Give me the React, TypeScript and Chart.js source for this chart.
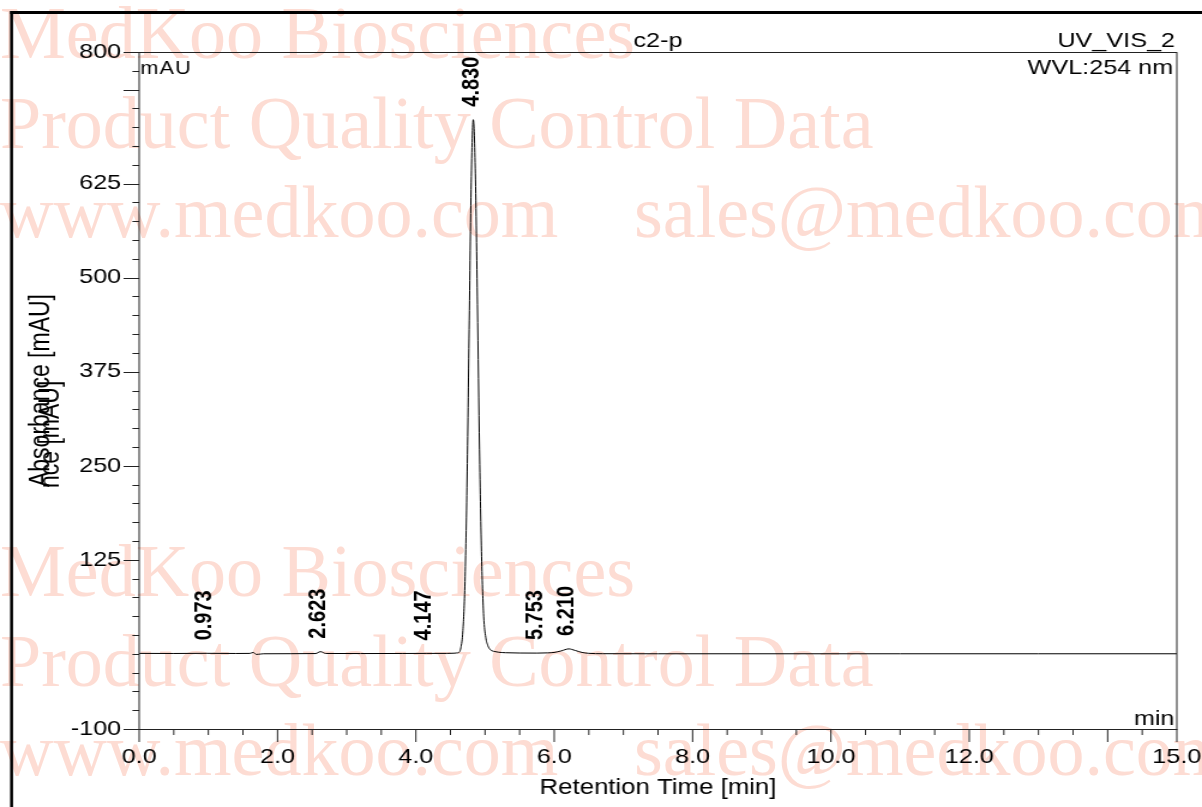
import { useEffect, useRef } from 'react';
import { Chart, registerables } from 'chart.js';

Chart.register(...registerables);

// ---- data ----
const retentionTimes = [
  0, 0.5, 0.973, 1.4, 1.6, 1.65, 1.69, 1.73, 1.8, 2.2, 2.55, 2.62, 2.7, 3.2, 3.8, 4.147,
  4.45, 4.56, 4.59, 4.62, 4.65, 4.68, 4.71, 4.74, 4.77, 4.8, 4.83, 4.86, 4.89, 4.92, 4.95,
  4.98, 5.01, 5.04, 5.07, 5.1, 5.15, 5.2, 5.3, 5.5, 5.753, 5.9, 6.0, 6.1, 6.21, 6.3, 6.4,
  6.5, 6.7, 7.5, 9, 11, 13, 15,
];
const absorbance = [
  0.5, 0.4, 0.6, 0.4, 0.5, 1.8, -0.8, -0.6, 0, 0.1, 0.3, 2.8, 0.4, 0.3, 0.4, 0.5,
  0.5, 0.8, 1.1, 1.6, 7.9, 31, 96, 231, 431, 626, 710, 638, 464, 272, 129,
  50, 22, 11, 6, 4, 2.8, 2, 1.4, 1, 0.9, 1.2, 1.8, 3.8, 6.5, 4.5, 1.8,
  0.6, 0.1, 0, 0, 0, 0, 0,
];

const peakTimes = [0.973, 2.623, 4.147, 4.83, 5.753, 6.21];
const peakHeights = [0.6, 2.8, 0.5, 710, 0.9, 6.5];
const peakLabels = ['0.973', '2.623', '4.147', '4.830', '5.753', '6.210'];

const xTickValues = [
  0, 0.5, 1, 1.5, 2, 2.5, 3, 3.5, 4, 4.5, 5, 5.5, 6, 6.5, 7, 7.5, 8, 8.5, 9, 9.5, 10,
  10.5, 11, 11.5, 12, 12.5, 13, 13.5, 14, 14.5, 15,
];
const xLabelValues = [0, 2, 4, 6, 8, 10, 12, 15];
const xLongTicks = [0, 2, 4, 6, 8, 10, 12, 14, 15];

const yTickValues = [
  -100, -75, -50, -25, 0, 25, 50, 75, 100, 125, 150, 175, 200, 225, 250, 275, 300, 325,
  350, 375, 400, 425, 450, 475, 500, 525, 550, 575, 600, 625, 650, 675, 700, 725, 750,
  775, 800,
];
const yLabelValues = [800, 625, 500, 375, 250, 125, -100];
const yLongTicks = [800, 750, 625, 500, 375, 250, 125, -100];

const titleText = 'c2-p';
const channelText = 'UV_VIS_2';
const wavelengthText = 'WVL:254 nm';
const yUnitText = 'mAU';
const xUnitText = 'min';
const xTitle = 'Retention Time [min]';
const yTitle = 'Absorbance [mAU]';
const yTitleGhost = 'nce [mAU]';

const watermarkLines = [
  'MedKoo Biosciences',
  'Product Quality Control Data',
  'www.medkoo.com',
  'sales@medkoo.com',
];

// ---- layout ----
const SCREEN_W = 1202;
const SCREEN_H = 807;
const CANVAS_W = 1002; // drawn horizontally stretched to SCREEN_W
const FONT = '"Liberation Sans", Arial, Helvetica, sans-serif';
const WM_COLOR = '#fddcd3';

const decorPlugin = {
  id: 'decor',
  afterDraw(chart: any) {
    const { ctx, chartArea: a, scales } = chart;
    const xs = scales.x;
    const ys = scales.y;
    ctx.save();
    ctx.strokeStyle = '#222';
    ctx.lineWidth = 1;
    ctx.beginPath();
    for (const t of ys.ticks) {
      const y = Math.round(ys.getPixelForValue(t.value)) + 0.5;
      const len = yLongTicks.includes(t.value) ? 13 : 5.6;
      ctx.moveTo(a.left - len, y);
      ctx.lineTo(a.left, y);
    }
    for (const t of xs.ticks) {
      const x = xs.getPixelForValue(t.value);
      const len = xLongTicks.includes(t.value) ? 13 : 6;
      ctx.moveTo(x, a.bottom);
      ctx.lineTo(x, a.bottom + len);
    }
    ctx.stroke();
    ctx.strokeRect(Math.round(a.left), Math.round(a.top) + 0.5, a.right - a.left, a.bottom - a.top);

    // outer frame
    ctx.fillStyle = '#000';
    ctx.fillRect(8.4, 11, 2.5, SCREEN_H);
    ctx.fillRect(8.4, 11, CANVAS_W, 3);

    // header texts
    ctx.fillStyle = '#000';
    ctx.textBaseline = 'alphabetic';
    ctx.font = `21px ${FONT}`;
    ctx.textAlign = 'center';
    ctx.fillText(titleText, (a.left + a.right) / 2, 47);
    ctx.textAlign = 'right';
    ctx.fillText(channelText, a.right - 1.5, 47);
    ctx.fillText(wavelengthText, a.right - 3, 74);
    ctx.fillText(xUnitText, a.right - 2, 725);
    ctx.textAlign = 'left';
    ctx.font = `18px ${FONT}`;
    try { (ctx as any).letterSpacing = '1px'; } catch (e) { /* ignore */ }
    ctx.fillText(yUnitText, a.left + 1, 74);
    try { (ctx as any).letterSpacing = '0px'; } catch (e) { /* ignore */ }

    // overlapping ghost of the y title
    ctx.font = `23px ${FONT}`;
    ctx.textAlign = 'left';
    ctx.textBaseline = 'middle';
    ctx.save();
    ctx.translate(42.5, 488);
    ctx.rotate(-Math.PI / 2);
    ctx.fillText(yTitleGhost, 0, 0);
    ctx.restore();

    // peak labels
    ctx.font = `bold 20px ${FONT}`;
    ctx.textAlign = 'left';
    ctx.textBaseline = 'middle';
    peakTimes.forEach((t, i) => {
      const x = xs.getPixelForValue(t) - 1.5;
      const y = ys.getPixelForValue(peakHeights[i]) - 13;
      ctx.save();
      ctx.translate(x, y);
      ctx.rotate(-Math.PI / 2);
      ctx.fillText(peakLabels[i], 0, 0);
      ctx.restore();
    });
    ctx.restore();
  },
};

export default function App() {
  const canvasRef = useRef<HTMLCanvasElement | null>(null);

  useEffect(() => {
    const canvas = canvasRef.current;
    if (!canvas) return;
    const chart = new Chart(canvas, {
      type: 'line',
      data: {
        datasets: [
          {
            data: retentionTimes.map((t, i) => ({ x: t, y: absorbance[i] })),
            borderColor: '#000',
            borderWidth: 1,
            pointRadius: 0,
            fill: false,
            cubicInterpolationMode: 'monotone',
          },
        ],
      },
      options: {
        animation: false,
        responsive: false,
        devicePixelRatio: 1,
        events: [],
        layout: { padding: { left: 0, top: 52, right: CANVAS_W - 981, bottom: 0 } },
        plugins: {
          legend: { display: false },
          tooltip: { enabled: false },
          title: { display: false },
        },
        scales: {
          x: {
            type: 'linear',
            min: 0,
            max: 15,
            afterBuildTicks: (scale: any) => {
              scale.ticks = xTickValues.map((v) => ({ value: v }));
            },
            afterFit: (scale: any) => {
              scale.height = SCREEN_H - 729;
              scale.paddingLeft = 0;
              scale.paddingRight = 0;
            },
            grid: { display: false, drawTicks: false, tickLength: 0 },
            border: { display: false },
            ticks: {
              autoSkip: false,
              maxRotation: 0,
              minRotation: 0,
              padding: 16,
              color: '#000',
              font: { family: FONT, size: 21 },
              callback: (v: any) => (xLabelValues.includes(Number(v)) ? Number(v).toFixed(1) : ''),
            },
            title: {
              display: true,
              text: xTitle,
              color: '#000',
              font: { family: FONT, size: 21.5 },
              padding: { top: 0, bottom: 6 },
            },
          },
          y: {
            type: 'linear',
            min: -100,
            max: 800,
            afterBuildTicks: (scale: any) => {
              scale.ticks = yTickValues.map((v) => ({ value: v }));
            },
            afterFit: (scale: any) => {
              scale.width = 116;
              scale.paddingTop = 0;
              scale.paddingBottom = 0;
            },
            grid: { display: false, drawTicks: false, tickLength: 0 },
            border: { display: false },
            ticks: {
              autoSkip: false,
              padding: 15,
              color: '#000',
              font: { family: FONT, size: 21 },
              callback: (v: any) => (yLabelValues.includes(Number(v)) ? String(v) : ''),
            },
            title: {
              display: true,
              text: yTitle,
              color: '#000',
              font: { family: FONT, size: 23 },
              padding: { top: 20.4, bottom: 0 },
            },
          },
        },
      },
      plugins: [decorPlugin],
    } as any);
    return () => chart.destroy();
  }, []);

  const wmStyle = (top: number, left: number): any => ({
    position: 'absolute',
    top,
    left,
    margin: 0,
    whiteSpace: 'pre',
    fontFamily: '"Liberation Serif", "Times New Roman", serif',
    fontSize: 74,
    lineHeight: '74px',
    color: WM_COLOR,
  });

  const groups = [-4, 534];
  return (
    <div
      style={{
        position: 'fixed',
        left: 0,
        top: 0,
        width: SCREEN_W,
        height: SCREEN_H,
        overflow: 'hidden',
        background: '#fff',
      }}
    >
      {groups.map((g) => (
        <div key={g}>
          <div style={wmStyle(g, 0)}>{watermarkLines[0]}</div>
          <div style={wmStyle(g + 89.5, 0)}>{watermarkLines[1]}</div>
          <div style={wmStyle(g + 179, 0)}>{watermarkLines[2]}</div>
          <div style={wmStyle(g + 179, 634)}>{watermarkLines[3]}</div>
        </div>
      ))}
      <canvas
        ref={canvasRef}
        width={CANVAS_W}
        height={SCREEN_H}
        style={{ position: 'absolute', left: 0, top: 0, width: SCREEN_W, height: SCREEN_H }}
      />
    </div>
  );
}
